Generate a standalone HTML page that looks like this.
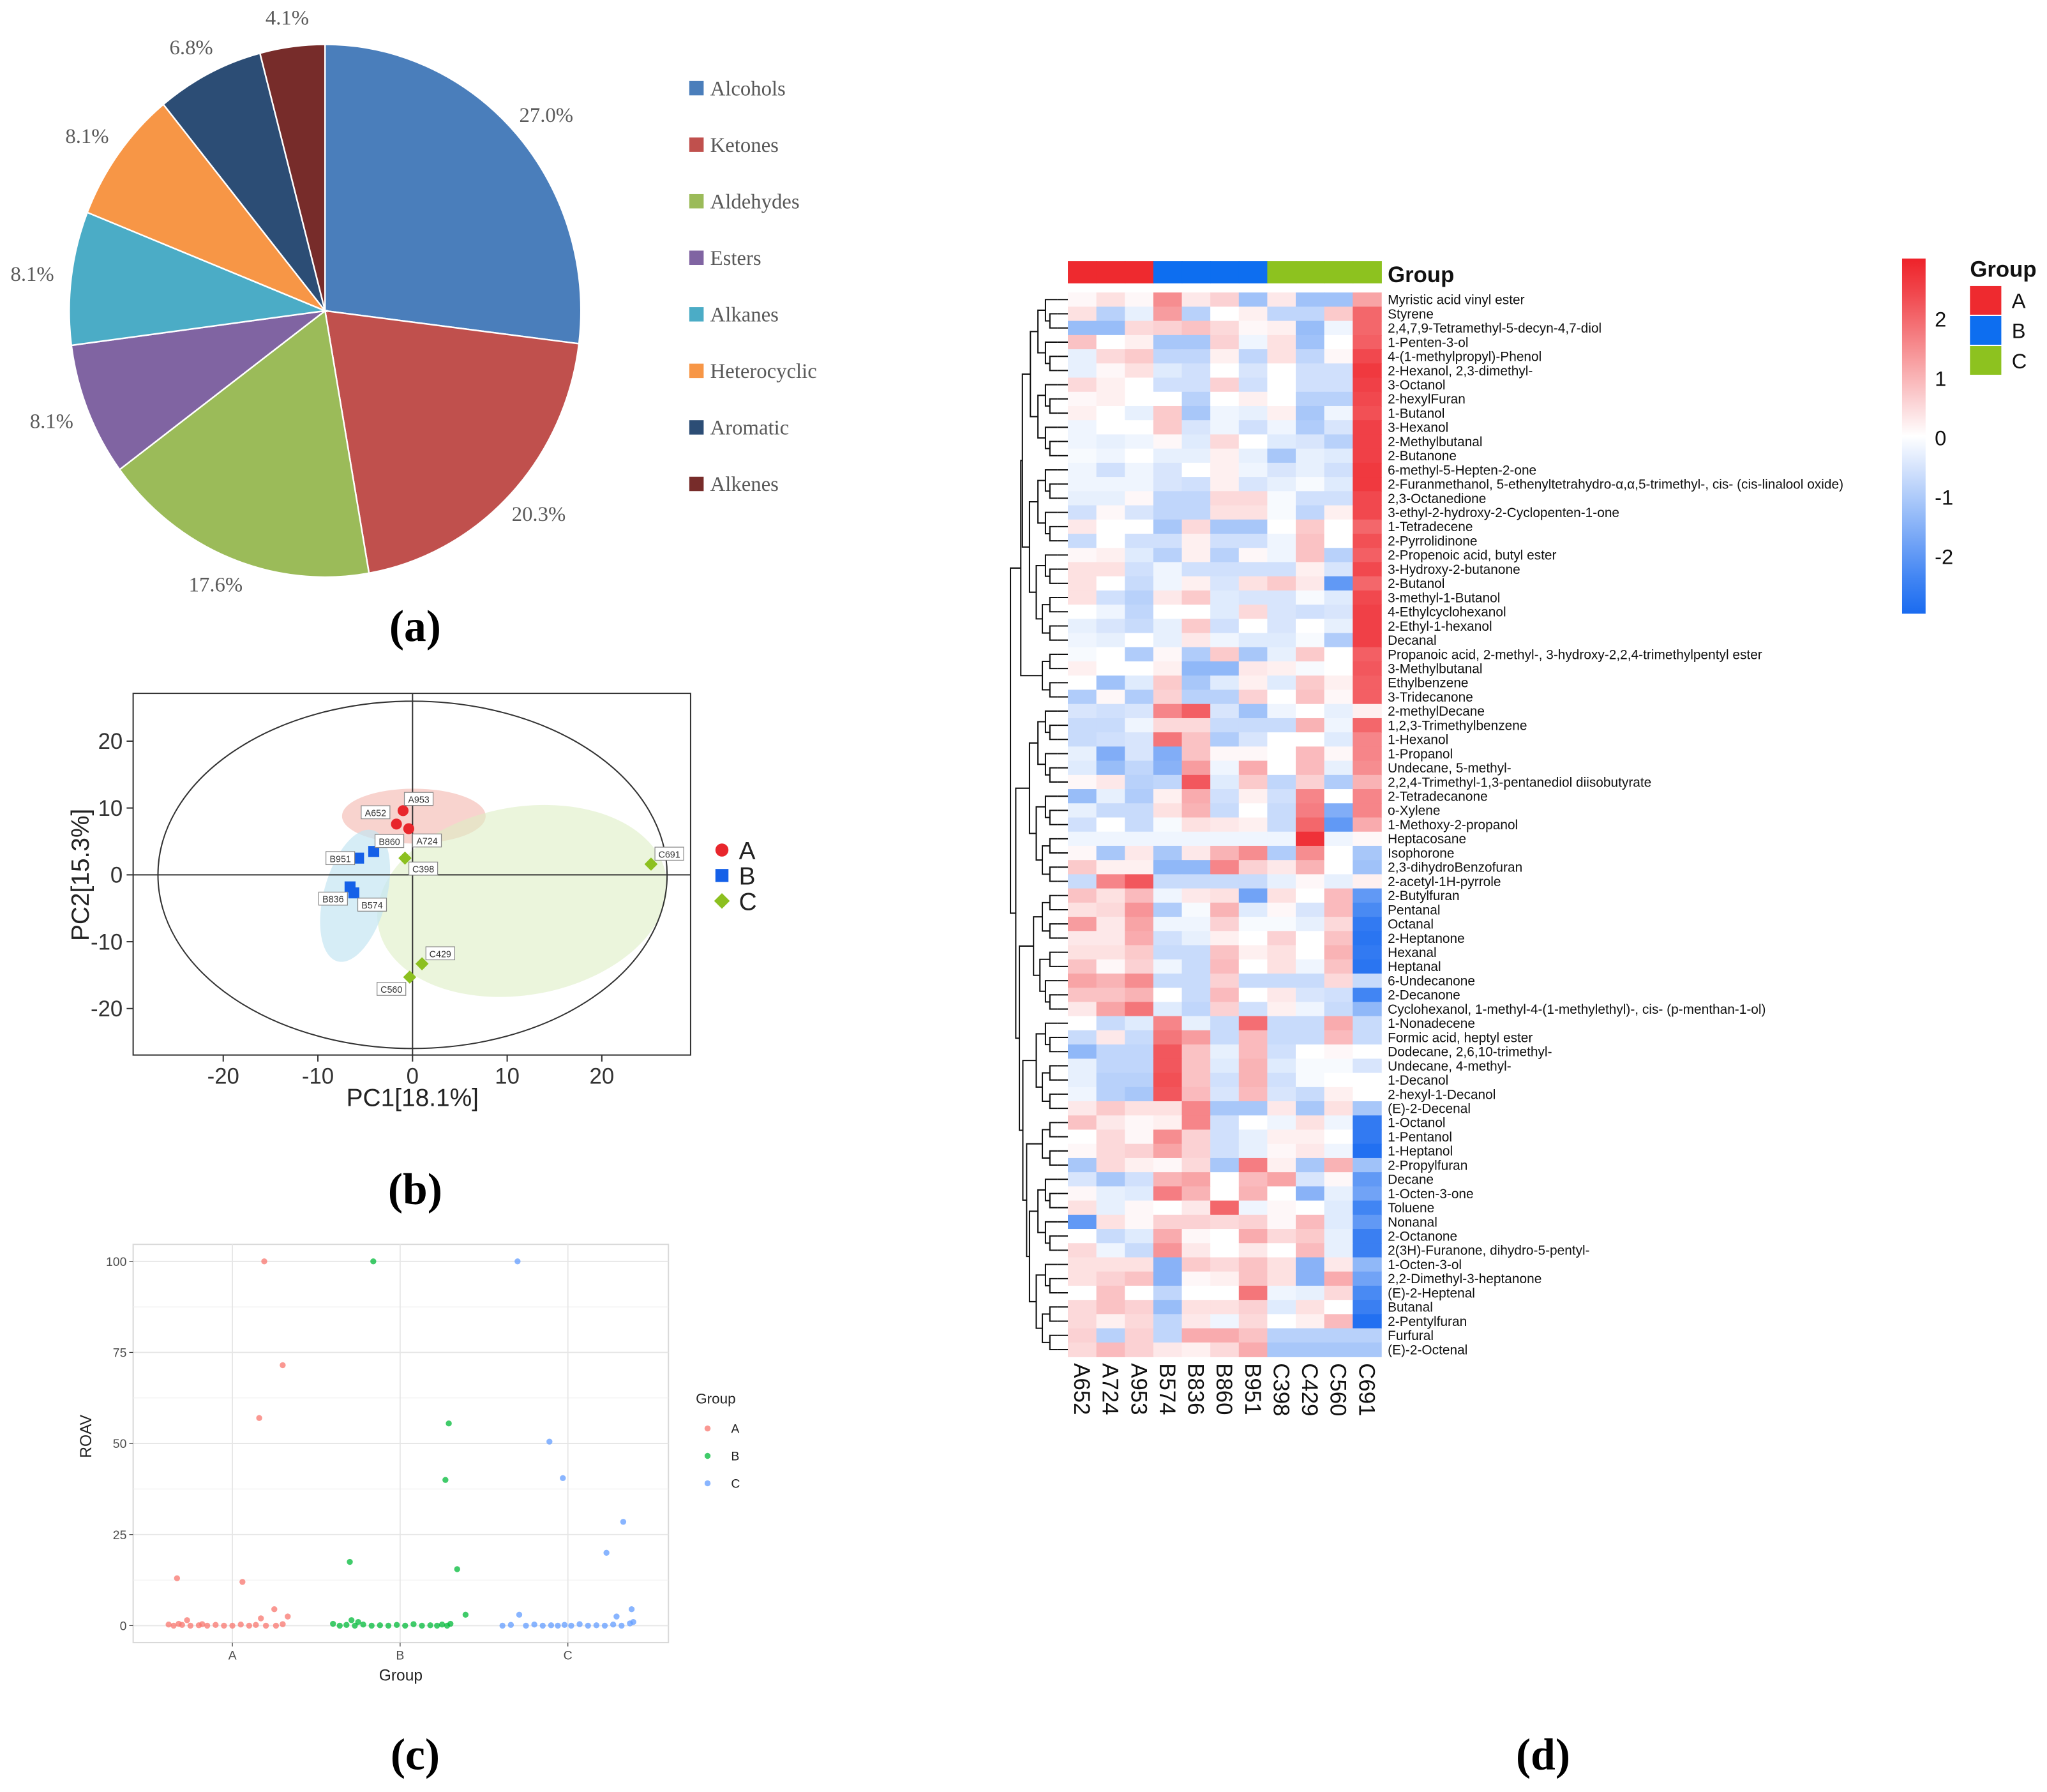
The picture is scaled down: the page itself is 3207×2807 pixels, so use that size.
<!DOCTYPE html>
<html><head><meta charset="utf-8"><style>
html,body{margin:0;padding:0;background:#fff}
svg{display:block}
.serif{font-family:"Liberation Serif",serif}
.sans{font-family:"Liberation Sans",sans-serif}
</style></head><body>
<svg id="root" width="3207" height="2807" viewBox="0 0 1568 1372.4" xmlns="http://www.w3.org/2000/svg">
<rect width="1568" height="1372.4" fill="#fff"/>
<g id="pie"></g>
<g id="pieLegend"></g>
<text class="serif" x="318" y="491" font-size="34" font-weight="bold" text-anchor="middle">(a)</text>
<text class="serif" x="318" y="922" font-size="34" font-weight="bold" text-anchor="middle">(b)</text>
<text class="serif" x="318" y="1355" font-size="34" font-weight="bold" text-anchor="middle">(c)</text>
<text class="serif" x="1182" y="1355" font-size="34" font-weight="bold" text-anchor="middle">(d)</text>
<g id="pca"></g>
<g id="roav"></g>
<g id="heat"></g>
</svg>
<script>
const NS="http://www.w3.org/2000/svg";
function mk(parent,tag,attrs,text){const e=document.createElementNS(NS,tag);for(const k in attrs)e.setAttribute(k,attrs[k]);if(text!==undefined)e.textContent=text;parent.appendChild(e);return e;}

/* ---------- PIE DATA ---------- */
const pieCategories=["Alcohols","Ketones","Aldehydes","Esters","Alkanes","Heterocyclic","Aromatic","Alkenes"];
const pieValues=[27.0,20.3,17.6,8.1,8.1,8.1,6.8,4.1];
const pieColors=["#4A7EBB","#C0504D","#9BBB59","#8064A2","#4BACC6","#F79646","#2C4D75","#772C2A"];

/* ---------- PCA DATA ---------- */
const pcaLabels=["A953","A652","A724","B860","B951","B836","B574","C398","C691","C429","C560"];
const pcaGroups=["A","A","A","B","B","B","B","C","C","C","C"];
const pcaPC1=[-1.0,-1.7,-0.4,-4.1,-5.7,-6.6,-6.2,-0.8,25.2,1.0,-0.3];
const pcaPC2=[9.6,7.6,6.9,3.5,2.5,-1.8,-2.7,2.5,1.6,-13.3,-15.3];
const pcaTicks=[-20,-10,0,10,20];

/* ---------- ROAV DATA ---------- */
const roavGroups=["A","B","C"];
const roavA=[100,71.5,57,13,12,4.5,2.5,2,1.5,0.3,0,0.2,0,0.1,0,0.2,0,0,0.3,0,0.2,0,0,0.4,0.5,0.4];
const roavAJitter=[0.19,0.3,0.16,-0.33,0.06,0.25,0.33,0.17,-0.27,-0.38,-0.35,-0.3,-0.25,-0.2,-0.15,-0.1,-0.05,0,0.05,0.1,0.14,0.2,0.26,0.3,-0.32,-0.18];
const roavB=[100,55.5,40,17.5,15.5,3,1.5,0.5,0,0.2,0,0.3,0,0.1,0,0.2,0,0.4,0,0.1,0,0.3,0,0.5,1];
const roavBJitter=[-0.16,0.29,0.27,-0.3,0.34,0.39,-0.29,-0.4,-0.36,-0.32,-0.27,-0.22,-0.17,-0.12,-0.07,-0.02,0.03,0.08,0.13,0.18,0.22,0.25,0.28,0.3,-0.25];
const roavC=[100,50.5,40.5,28.5,20,4.5,2.5,3,0,0.2,0,0.3,0,0.1,0,0.2,0,0.4,0,0.1,0,0.3,0,0.6,1];
const roavCJitter=[-0.3,-0.11,-0.03,0.33,0.23,0.38,0.29,-0.29,-0.39,-0.34,-0.25,-0.2,-0.15,-0.1,-0.06,-0.02,0.02,0.07,0.12,0.17,0.22,0.27,0.32,0.37,0.39];
const roavTicks=[0,25,50,75,100];

/* ---------- HEATMAP DATA ---------- */
const heatCols=["A652","A724","A953","B574","B836","B860","B951","C398","C429","C560","C691"];
const heatColGroups=["A","A","A","B","B","B","B","C","C","C","C"];
const heatRows=["Myristic acid vinyl ester","Styrene","2,4,7,9-Tetramethyl-5-decyn-4,7-diol","1-Penten-3-ol","4-(1-methylpropyl)-Phenol","2-Hexanol, 2,3-dimethyl-","3-Octanol","2-hexylFuran","1-Butanol","3-Hexanol","2-Methylbutanal","2-Butanone","6-methyl-5-Hepten-2-one","2-Furanmethanol, 5-ethenyltetrahydro-\u03B1,\u03B1,5-trimethyl-, cis-  (cis-linalool oxide)","2,3-Octanedione","3-ethyl-2-hydroxy-2-Cyclopenten-1-one","1-Tetradecene","2-Pyrrolidinone","2-Propenoic acid, butyl ester","3-Hydroxy-2-butanone","2-Butanol","3-methyl-1-Butanol","4-Ethylcyclohexanol","2-Ethyl-1-hexanol","Decanal","Propanoic acid, 2-methyl-, 3-hydroxy-2,2,4-trimethylpentyl ester","3-Methylbutanal","Ethylbenzene","3-Tridecanone","2-methylDecane","1,2,3-Trimethylbenzene","1-Hexanol","1-Propanol","Undecane, 5-methyl-","2,2,4-Trimethyl-1,3-pentanediol diisobutyrate","2-Tetradecanone","o-Xylene","1-Methoxy-2-propanol","Heptacosane","Isophorone","2,3-dihydroBenzofuran","2-acetyl-1H-pyrrole","2-Butylfuran","Pentanal","Octanal","2-Heptanone","Hexanal","Heptanal","6-Undecanone","2-Decanone","Cyclohexanol, 1-methyl-4-(1-methylethyl)-, cis-  (p-menthan-1-ol)","1-Nonadecene","Formic acid, heptyl ester","Dodecane, 2,6,10-trimethyl-","Undecane, 4-methyl-","1-Decanol","2-hexyl-1-Decanol","(E)-2-Decenal","1-Octanol","1-Pentanol","1-Heptanol","2-Propylfuran","Decane","1-Octen-3-one","Toluene","Nonanal","2-Octanone","2(3H)-Furanone, dihydro-5-pentyl-","1-Octen-3-ol","2,2-Dimethyl-3-heptanone","(E)-2-Heptenal","Butanal","2-Pentylfuran","Furfural","(E)-2-Octenal"];
const heatValues=[
[0.1,0.4,0.1,1.5,0.3,0.6,-1.2,0.3,-1.2,-1.2,1.2],
[0.4,-0.9,-0.3,1.3,-0.9,0,0.2,-0.8,-0.8,0.7,2],
[-1.3,-1.3,0.5,0.6,0.8,0.5,0.1,0.2,-1.3,-0.2,2],
[0.8,0,0.2,-1.1,-1.1,0.6,-0.2,0.4,-1.2,0,2.1],
[-0.3,0.5,0.7,-0.8,-0.8,0.2,-0.8,0.4,-0.8,0.1,2.4],
[-0.3,0.1,0.4,-0.4,-0.6,0,-0.5,0,-0.6,-0.6,2.6],
[0.5,0.2,0,-0.6,-0.6,0.6,-0.6,0,-0.6,-0.6,2.5],
[0.1,0.2,0,0,-0.9,0,0.2,0,-0.9,-0.9,2.4],
[0.2,0,-0.3,0.7,-1.1,-0.2,-0.3,0.2,-1.1,-0.2,2.3],
[-0.2,0,0,0.7,-0.5,-0.2,-0.6,-0.2,-1,-0.5,2.5],
[-0.2,-0.3,-0.2,0.1,-0.4,0.5,0,-0.4,-0.5,-0.9,2.5],
[-0.1,-0.2,0,-0.3,-0.3,0.2,-0.3,-1.1,-0.3,-0.4,2.5],
[-0.2,-0.6,-0.2,-0.5,0,0.2,-0.2,-0.5,-0.3,-0.6,2.6],
[-0.2,-0.2,-0.2,-0.5,-0.6,0.2,-0.5,-0.3,-0.1,-0.4,2.6],
[-0.3,-0.3,0.1,-0.8,-0.8,0.5,0.5,-0.1,-0.6,-0.6,2.4],
[-0.6,0.1,-0.5,-0.8,-0.8,0.4,0.4,-0.1,-0.8,0.2,2.4],
[0.3,0,0,-1.1,0.5,-1.1,-1.1,0,0.7,0,2.0],
[-0.7,0,-0.6,-0.6,0.2,-0.6,-0.6,-0.2,0.8,0,2.3],
[0.1,0.2,-0.4,-0.9,0.2,-0.9,0.1,-0.2,0.8,-0.9,2.1],
[0.4,0.4,-0.6,-0.2,-0.6,-0.6,-0.6,-0.6,0.2,-0.5,2.4],
[0.4,0,-0.7,-0.2,0.2,-0.5,0.4,0.7,0.3,-2,2.0],
[0.4,-0.6,-0.9,0.3,0.7,-0.4,-0.5,-0.5,-0.1,-0.4,2.4],
[0,-0.2,-0.8,0,0,-0.4,0.5,-0.5,-0.6,-0.5,2.5],
[-0.3,-0.5,-0.7,-0.3,0.7,-0.6,0,-0.5,0,-0.3,2.5],
[-0.2,-0.3,0,-0.3,0.3,-0.2,-0.4,-0.4,-0.1,-1,2.5],
[-0.1,0,-1,0.1,-1,0.7,-1.1,-0.3,0.7,0,2.1],
[0.2,0,0,0.2,-1.4,-1.4,0.3,0.2,-0.1,0,2.2],
[0,-1.2,-0.4,0.7,-1.1,-0.4,0.2,-0.4,0.7,0.2,2.1],
[-1,0.1,-1,0.6,-0.9,-0.9,0.6,0,0.8,0.1,2.1],
[-0.5,-0.6,-0.5,1.6,2.1,-0.5,-1.2,-0.2,0,-0.3,0.2],
[-0.7,-0.7,-0.2,0.5,0.5,-0.7,-0.7,-0.7,1,-0.2,2.0],
[-0.7,-0.6,-0.5,1.8,0.8,-1,-0.5,0,0,-0.4,1.6],
[-0.3,-1.6,-0.5,-1.6,0.8,0.1,0.1,0,0.9,0.1,1.6],
[-0.4,-1.3,-0.8,-1.5,1.3,-0.2,1.1,0,0.9,-0.3,1.5],
[0.1,0.3,-0.9,-0.8,2.2,-0.4,0.7,-0.8,0.6,-1,1.0],
[-1.3,-0.3,-1,0.2,1.1,-0.6,0.2,-0.6,1.6,0,1.6],
[-0.3,-0.7,-0.7,0.4,1,-0.7,0,-0.7,1.7,-1.6,1.6],
[-0.6,0,-0.7,-0.1,0.4,0.3,0.2,-0.7,2,-2,1.1],
[-0.2,-0.2,-0.2,-0.2,-0.2,-0.2,-0.2,-0.2,2.7,-0.2,0.1],
[0.1,-1.1,0.3,-1.1,0.3,1,1.5,-1,1.5,0,-1.1],
[0.7,0.2,0.2,-1.4,-1.4,1.6,0.6,0.3,1,0,-1.2],
[-0.7,1.6,2.2,-0.7,-0.7,-0.7,-0.7,-0.3,0.1,-0.3,0.2],
[0.8,0.4,0.9,-0.2,0.3,0.4,-1.8,0.4,0,0.9,-2],
[0.4,0.5,1.4,-1,-0.1,1,-0.4,0.1,-0.5,0.9,-2.3],
[1.3,0.3,1.2,-0.2,-0.2,0.6,-0.1,-0.1,-0.3,0.5,-2.6],
[0.3,0.3,1.1,-0.6,-0.3,0.2,0,0.6,0,0.8,-2.7],
[0.4,0.4,0.7,-0.7,-0.7,0.8,0.2,0.4,0,1,-2.6],
[0.8,0.1,0.6,-0.2,-0.7,0.9,0,0.4,-0.2,0.8,-2.7],
[1.2,1,1.5,-0.7,-0.7,0.6,-0.7,-0.7,-0.7,0.5,-0.7],
[0.8,0.8,1,0,-0.7,0.9,0,0.3,-0.5,-0.6,-2.4],
[0.3,1.2,1.8,-0.4,-0.8,0.6,-0.6,0.2,-0.2,-0.7,-1.4],
[0,-0.7,-0.4,1.6,-0.3,-0.7,1.9,-0.7,-0.7,1.1,-0.7],
[-0.7,0.3,-0.7,1.8,1.3,-0.7,0.9,-0.7,-0.7,0.9,-0.7],
[-1.4,-0.8,-0.8,2.2,0.8,-0.3,0.9,-0.6,0,0.1,0],
[-0.3,-0.8,-0.8,2.2,0.8,-0.4,1,-0.4,-0.1,-0.1,-0.5],
[-0.3,-0.9,-0.9,2.3,0.8,-0.6,1,-0.6,-0.1,0,0],
[-0.2,-0.9,-1.1,2.2,0.9,-0.5,0.9,-0.5,-0.7,0.2,0],
[0.3,0.7,0.4,0.4,1.6,-1.1,-1.1,0.3,-1.1,0.4,-1.1],
[0.8,0.3,0.1,0.2,1.6,-0.6,0,-0.2,0.4,-0.2,-2.6],
[0,0.5,0.1,1.5,0.6,-0.6,-0.3,0.2,0.2,0,-2.6],
[0.1,0.5,0.6,1.2,0.6,-0.6,-0.3,0.1,0.3,-0.2,-2.8],
[-1.1,0.5,0.2,0.1,0.5,-1.1,1.7,0.2,-1.1,1,-1.2],
[-0.5,-1.1,-0.6,1,1.2,0,0.9,1.2,-0.5,0.1,-2],
[0.1,-0.3,-0.4,1.7,1,0,1,0,-1.5,-0.3,-1.8],
[0.4,-0.3,0.1,0,0.3,2,-0.2,0.1,0,-0.4,-2.4],
[-2,0.4,0.1,0.6,0.6,0.5,0.6,0.1,0.9,-0.4,-2],
[0,-0.7,-0.4,1.1,0.1,0,1.1,0.5,0.7,-0.3,-2.5],
[0.5,-0.2,-0.7,1.4,0.3,0,0.3,0,0.9,-0.3,-2.5],
[0.4,0.4,0.4,-1.5,0.7,0.5,0.8,0.4,-1.5,0.3,-1.4],
[0.4,0.6,0.8,-1.5,0.1,0.2,0.8,0.4,-1.5,1.1,-1.8],
[0,0.8,0,-0.8,0,0,1.8,-0.2,-0.3,0.5,-2.3],
[0.5,0.8,0.6,-1.3,0.4,0.4,0.6,-0.4,0.4,0,-2.5],
[0.5,0.2,0.5,-0.8,0.3,-0.2,0.5,0,0.2,0.9,-2.8],
[0.6,-0.9,0.6,-0.8,1.1,1.1,0.8,-0.9,-0.9,-0.9,-0.9],
[0.5,0.9,0.6,0.3,0.2,0.5,1.1,-1.1,-1.1,-1.1,-1.1]];
const heatLegendTicks=[2,1,0,-1,-2];
const groupNames=["A","B","C"];

/* ---------- PIE ---------- */
(function(){
  const g=document.getElementById('pie'), cx=249, cy=238, rx=196, ry=204;
  const total=pieValues.reduce((a,b)=>a+b,0);
  let a0=0;
  pieValues.forEach((v,i)=>{
    const a1=a0+v/total*2*Math.PI;
    const x0=cx+rx*Math.sin(a0), y0=cy-ry*Math.cos(a0), x1=cx+rx*Math.sin(a1), y1=cy-ry*Math.cos(a1);
    const large=(a1-a0)>Math.PI?1:0;
    const p=mk(g,'path',{d:`M${cx},${cy} L${x0},${y0} A${rx},${ry} 0 ${large} 1 ${x1},${y1} Z`,fill:pieColors[i],stroke:'#fff','stroke-width':1.2});
    
    
    const am=(a0+a1)/2, lr=226;
    const t=mk(g,'text',{x:cx+lr*Math.sin(am),y:cy-lr*Math.cos(am)+5,'font-size':16,fill:'#595959','text-anchor':'middle',class:'serif'},v.toFixed(1)+'%');
    
    
    a0=a1;
  });
  const lg=document.getElementById('pieLegend');
  pieCategories.forEach((c,i)=>{
    const y=68+i*43.3;
    const s=mk(lg,'rect',{x:528,y:y-6,width:11,height:11,fill:pieColors[i]});
    
    
    const t=mk(lg,'text',{x:544,y:y+5,'font-size':16,fill:'#595959',class:'serif'},c);
    
    
  });
})();

/* ---------- PCA ---------- */
(function(){
  const g=document.getElementById('pca');
  const X=v=>316+v*7.25, Y=v=>670-v*5.12;
  mk(g,'ellipse',{cx:317,cy:625,rx:55,ry:21,fill:'#F4B6AE','fill-opacity':0.6});
  mk(g,'ellipse',{cx:400,cy:690,rx:112,ry:72,transform:'rotate(-10 400 690)',fill:'#DDEFC4','fill-opacity':0.6});
  mk(g,'ellipse',{cx:272,cy:686,rx:24,ry:52,transform:'rotate(15 272 686)',fill:'#C5E6F2','fill-opacity':0.7});
  const fr=mk(g,'rect',{x:102,y:531,width:427,height:277,fill:'none',stroke:'#333','stroke-width':1});
  
  mk(g,'ellipse',{cx:X(0),cy:Y(0),rx:195,ry:133,fill:'none',stroke:'#333','stroke-width':1});
  mk(g,'line',{x1:102,x2:529,y1:Y(0),y2:Y(0),stroke:'#333'});
  mk(g,'line',{x1:X(0),x2:X(0),y1:531,y2:808,stroke:'#333'});
  pcaTicks.forEach(t=>{
    mk(g,'line',{x1:X(t),x2:X(t),y1:808,y2:813,stroke:'#333'});
    const tx=mk(g,'text',{x:X(t),y:830,'font-size':17,'text-anchor':'middle',fill:'#333',class:'sans'},t);
    
    mk(g,'line',{x1:97,x2:102,y1:Y(t),y2:Y(t),stroke:'#333'});
    const ty=mk(g,'text',{x:94,y:Y(t)+6,'font-size':17,'text-anchor':'end',fill:'#333',class:'sans'},t);
    
  });
  const xl=mk(g,'text',{x:316,y:847,'font-size':19,'text-anchor':'middle',fill:'#222',class:'sans'},'PC1[18.1%]');
  
  const yl=mk(g,'text',{x:68,y:670,'font-size':19,'text-anchor':'middle',fill:'#222',class:'sans',transform:'rotate(-90 68 670)'},'PC2[15.3%]');
  
  const col={A:'#E8262C',B:'#1560E8',C:'#8CC020'};
  function marker(parent,gp,x,y,s){
    if(gp==='A') return mk(parent,'circle',{cx:x,cy:y,r:s,fill:col.A});
    if(gp==='B') return mk(parent,'rect',{x:x-s,y:y-s,width:2*s,height:2*s,fill:col.B});
    return mk(parent,'path',{d:`M${x},${y-s*1.2} L${x+s*1.2},${y} L${x},${y+s*1.2} L${x-s*1.2},${y} Z`,fill:col.C});
  }
  const lblOff={A953:[12,-9],A652:[-16,-9],A724:[14,9],B860:[12,-8],B951:[-14,0],B836:[-13,9],B574:[14,9],C398:[14,8],C691:[14,-8],C429:[14,-8],C560:[-14,9]};
  pcaLabels.forEach((l,i)=>{
    const x=X(pcaPC1[i]), y=Y(pcaPC2[i]);
    const m=marker(g,pcaGroups[i],x,y,4.2);
    
    
    const o=lblOff[l];
    mk(g,'rect',{x:x+o[0]-11,y:y+o[1]-5,width:22,height:10,fill:'#fff',stroke:'#888','stroke-width':0.6});
    const t=mk(g,'text',{x:x+o[0],y:y+o[1]+3,'font-size':7,'text-anchor':'middle',fill:'#333',class:'sans'},l);
    
  });
  groupNames.forEach((gn,i)=>{
    const y=651+i*19.5;
    const m=marker(g,gn,553,y,5);
    
    const t=mk(g,'text',{x:566,y:y+7,'font-size':19,fill:'#222',class:'sans'},gn);
    
  });
})();

/* ---------- ROAV ---------- */
(function(){
  const g=document.getElementById('roav');
  const L=102,R=512,T=953,B=1258;
  const Y=v=>1245-v*2.79, X=i=>178+i*128.5;
  mk(g,'rect',{x:L,y:T,width:R-L,height:B-T,fill:'#fff',stroke:'#d9d9d9'});
  [12.5,37.5,62.5,87.5].forEach(v=>mk(g,'line',{x1:L,x2:R,y1:Y(v),y2:Y(v),stroke:'#f0f0f0','stroke-width':0.6}));
  roavTicks.forEach(v=>{
    mk(g,'line',{x1:L,x2:R,y1:Y(v),y2:Y(v),stroke:'#e6e6e6','stroke-width':0.9});
    mk(g,'line',{x1:L-3,x2:L,y1:Y(v),y2:Y(v),stroke:'#333','stroke-width':0.6});
    const t=mk(g,'text',{x:L-5,y:Y(v)+3.5,'font-size':9.5,'text-anchor':'end',fill:'#4d4d4d',class:'sans'},v);
    
  });
  roavGroups.forEach((gn,i)=>{
    mk(g,'line',{x1:X(i),x2:X(i),y1:T,y2:B,stroke:'#e6e6e6','stroke-width':0.9});
    mk(g,'line',{x1:X(i),x2:X(i),y1:B,y2:B+3,stroke:'#333','stroke-width':0.6});
    const t=mk(g,'text',{x:X(i),y:B+13,'font-size':9.5,'text-anchor':'middle',fill:'#4d4d4d',class:'sans'},gn);
    
  });
  const xl=mk(g,'text',{x:307,y:1287,'font-size':12,'text-anchor':'middle',fill:'#222',class:'sans'},'Group');
  
  const yl=mk(g,'text',{x:70,y:1100,'font-size':12,'text-anchor':'middle',fill:'#222',class:'sans',transform:'rotate(-90 70 1100)'},'ROAV');
  
  const cols=['#F8766D','#00BA38','#619CFF'];
  const sets=[[roavA,roavAJitter],[roavB,roavBJitter],[roavC,roavCJitter]];
  sets.forEach((s,gi)=>{
    s[0].forEach((v,k)=>{
      const c=mk(g,'circle',{cx:X(gi)+s[1][k]*128.5,cy:Y(v),r:2.3,fill:cols[gi],'fill-opacity':0.75});
      
      
    });
  });
  const lt=mk(g,'text',{x:533,y:1075,'font-size':11,fill:'#222',class:'sans'},'Group');
  
  roavGroups.forEach((gn,i)=>{
    const y=1094+i*21;
    const c=mk(g,'circle',{cx:542,cy:y,r:2.3,fill:cols[i],'fill-opacity':0.75});
    
    const t=mk(g,'text',{x:560,y:y+3.5,'font-size':9.5,fill:'#222',class:'sans'},gn);
    
  });
})();

/* ---------- HEATMAP ---------- */
(function(){
  const g=document.getElementById('heat');
  const x0=818,x1=1058,y0=224,y1=1039;
  const cw=(x1-x0)/heatCols.length, rh=(y1-y0)/heatRows.length;
  const red=[238,34,41], blue=[26,107,240];
  function color(v){
    let t=Math.max(-1,Math.min(1,v/2.9));
    const c=t>=0?red:blue, a=Math.abs(t);
    return `rgb(${Math.round(255+(c[0]-255)*a)},${Math.round(255+(c[1]-255)*a)},${Math.round(255+(c[2]-255)*a)})`;
  }
  const gcol={A:'#EE2A2F',B:'#0D6EF0',C:'#8DC21F'};
  heatCols.forEach((c,j)=>{
    const r=mk(g,'rect',{x:x0+j*cw,y:200,width:cw+0.5,height:17,fill:gcol[heatColGroups[j]]});
    
    const tx=x0+j*cw+cw/2-6, ty=1044;
    const t=mk(g,'text',{x:tx,y:ty,'font-size':17,fill:'#111',class:'sans',transform:`rotate(90 ${tx} ${ty})`},c);
    
  });
  const gt=mk(g,'text',{x:1063,y:216,'font-size':17,'font-weight':'bold',fill:'#111',class:'sans'},'Group');
  
  heatValues.forEach((row,i)=>{
    row.forEach((v,j)=>{
      const r=mk(g,'rect',{x:x0+j*cw,y:y0+i*rh,width:cw+0.4,height:rh+0.4,fill:color(v)});
      
      
    });
    const t=mk(g,'text',{x:1063,y:y0+i*rh+rh/2+3.6,'font-size':10.2,fill:'#111',class:'sans'},heatRows[i]);
    
  });
  const dg=mk(g,'g',{stroke:'#111','stroke-width':1,fill:'none'});
  
  const splits={"0,75":29,"0,29":25,"29,75":42,"42,75":51,"51,75":58,"58,75":62};
  function node(lo,hi){
    if(hi-lo===1) return {y:y0+lo*rh+rh/2,x:810};
    const m=splits[lo+','+hi]||Math.floor((lo+hi)/2);
    const a=node(lo,m), b=node(m,hi);
    const x=812-36*Math.log2(hi-lo)/Math.log2(75)-2;
    mk(dg,'path',{d:`M${a.x},${a.y} H${x} V${b.y} H${b.x}`});
    return {y:(a.y+b.y)/2,x:x};
  }
  node(0,75);
  for(let i=0;i<75;i++) mk(dg,'line',{x1:810,x2:818,y1:y0+i*rh+rh/2,y2:y0+i*rh+rh/2});
  const defs=mk(g,'defs',{});
  const lgd=mk(defs,'linearGradient',{id:'cb',x1:0,y1:0,x2:0,y2:1});
  for(let k=0;k<=10;k++){const v=3-k*0.6;mk(lgd,'stop',{offset:k/10,'stop-color':color(v)});}
  const cb=mk(g,'rect',{x:1457,y:198,width:18,height:272,fill:'url(#cb)'});
  
  heatLegendTicks.forEach(v=>{
    const y=335-v*45.5;
    const t=mk(g,'text',{x:1482,y:y+6,'font-size':16,fill:'#111',class:'sans'},v);
    
  });
  const lt=mk(g,'text',{x:1509,y:212,'font-size':17,'font-weight':'bold',fill:'#111',class:'sans'},'Group');
  
  groupNames.forEach((gn,i)=>{
    const y=219+i*23;
    const r=mk(g,'rect',{x:1509,y:y,width:24,height:22,fill:gcol[gn]});
    
    const t=mk(g,'text',{x:1541,y:y+17,'font-size':16,fill:'#111',class:'sans'},gn);
    
  });
})();
</script>
</body></html>
